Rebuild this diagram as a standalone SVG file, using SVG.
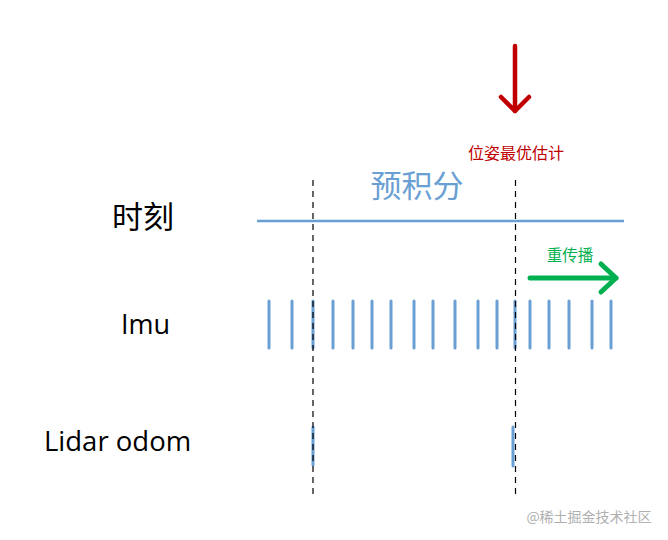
<svg xmlns="http://www.w3.org/2000/svg" width="668" height="540" viewBox="0 0 668 540">
<style>
.cjk{font-family:"Noto Sans CJK SC","Noto Sans",sans-serif}
.lat{font-family:"Open Sans","Noto Sans",sans-serif}
.bar{stroke:#6a9fd4;stroke-width:3;stroke-linecap:round}
.dash{stroke:#000;stroke-width:1.2;stroke-dasharray:6,5;fill:none}
</style>
<rect width="668" height="540" fill="#fff"/>
<g id="labels">
<text class="cjk" x="112" y="228" font-size="31" fill="#000">时刻</text>
<text class="lat" x="121" y="334" font-size="27" fill="#000">Imu</text>
<text class="lat" x="44" y="451" font-size="27.5" fill="#000">Lidar odom</text>
<text class="cjk" x="417" y="197" font-size="31" fill="#6a9fd4" text-anchor="middle">预积分</text>
<text class="cjk" x="516" y="159" font-size="16" fill="#c00000" text-anchor="middle">位姿最优估计</text>
<text class="cjk" x="570" y="261" font-size="15.5" fill="#00b050" text-anchor="middle">重传播</text>
<text class="cjk" x="589" y="522" font-size="14" fill="#b0b0b0" text-anchor="middle">@稀土掘金技术社区</text>
</g>
<g id="timeline">
<line x1="257" y1="221" x2="624" y2="221" stroke="#6a9fd4" stroke-width="2.5"/>
</g>
<g id="imu">
<line class="bar" x1="269" y1="301" x2="269" y2="348"/>
<line class="bar" x1="292" y1="301" x2="292" y2="348"/>
<line class="bar" x1="313" y1="301" x2="313" y2="348"/>
<line class="bar" x1="333" y1="301" x2="333" y2="348"/>
<line class="bar" x1="353" y1="301" x2="353" y2="348"/>
<line class="bar" x1="372" y1="301" x2="372" y2="348"/>
<line class="bar" x1="391" y1="301" x2="391" y2="348"/>
<line class="bar" x1="414" y1="301" x2="414" y2="348"/>
<line class="bar" x1="433" y1="301" x2="433" y2="348"/>
<line class="bar" x1="455" y1="301" x2="455" y2="348"/>
<line class="bar" x1="478" y1="301" x2="478" y2="348"/>
<line class="bar" x1="497" y1="301" x2="497" y2="348"/>
<line class="bar" x1="515" y1="301" x2="515" y2="348"/>
<line class="bar" x1="530" y1="301" x2="530" y2="348"/>
<line class="bar" x1="549" y1="301" x2="549" y2="348"/>
<line class="bar" x1="569" y1="301" x2="569" y2="348"/>
<line class="bar" x1="592" y1="301" x2="592" y2="348"/>
<line class="bar" x1="611" y1="301" x2="611" y2="348"/>
</g>
<g id="lidar">
<line class="bar" x1="313" y1="427" x2="313" y2="465" stroke-width="3.5"/>
<line class="bar" x1="513" y1="427" x2="513" y2="466" stroke-width="3.5"/>
</g>
<g id="connectors">
<line class="dash" x1="313" y1="180" x2="313" y2="497"/>
<line class="dash" x1="515.5" y1="180" x2="515.5" y2="497"/>
<g stroke="#c00000" stroke-width="4.5" stroke-linecap="round" stroke-linejoin="round" fill="none">
<line x1="515" y1="46" x2="515" y2="111"/>
<polyline points="501,97 515,111 529,97"/>
</g>
<g stroke="#00b050" stroke-width="5" stroke-linecap="round" stroke-linejoin="round" fill="none">
<line x1="530" y1="278" x2="616" y2="278"/>
<polyline points="601,264 616,278 601,292"/>
</g>
</g>
</svg>
